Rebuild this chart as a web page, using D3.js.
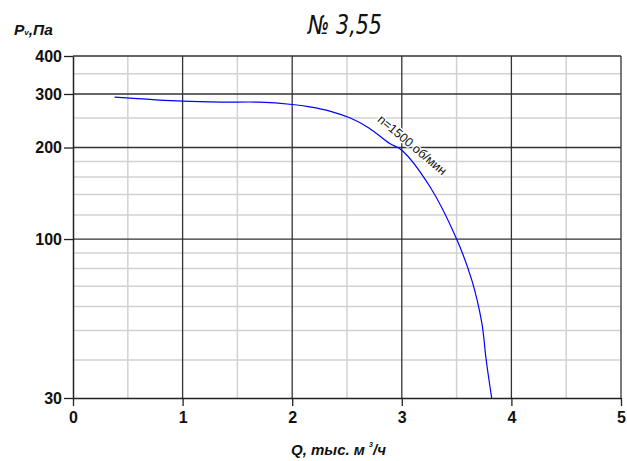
<!DOCTYPE html>
<html>
<head>
<meta charset="utf-8">
<script src="https://cdn.jsdelivr.net/npm/d3@7"></script>
<style>
  body { margin: 0; background: #fff; }
  svg { display: block; font-family: Arial, "Liberation Sans", sans-serif; }
</style>
</head>
<body>
<script>
// fan curve data (Q in thousand m3/h, Pv in Pa)
var flow = [0.38, 1.0, 1.35, 1.7, 2.0, 2.16, 2.35, 2.53, 2.7, 2.89, 3.0, 3.26, 3.5, 3.64, 3.73, 3.77, 3.82];
var pressure = [293, 284, 282, 282, 277, 272, 263, 250, 232, 206, 196, 148, 100, 73, 53, 40, 30];

var xTicks = [0, 1, 2, 3, 4, 5];
var xMinor = [0.5, 1.5, 2.5, 3.5, 4.5];
var yTicks = [30, 100, 200, 300, 400];
var yMinor = [40, 50, 60, 70, 80, 90, 120, 140, 160, 180, 250, 350];

var margin = { top: 56, right: 6, bottom: 63, left: 73 };
var W = 627, H = 461;
var w = W - margin.left - margin.right;
var h = H - margin.top - margin.bottom;

var svg = d3.select("body").append("svg")
    .attr("width", W)
    .attr("height", H);

var g = svg.append("g")
    .attr("transform", "translate(" + margin.left + "," + margin.top + ")");

var x = d3.scaleLinear().domain([0, 5]).range([0, w]);
var y = d3.scaleLog().domain([30, 400]).range([h, 0]);

// minor grid
g.selectAll(".vminor").data(xMinor).enter().append("line")
    .attr("x1", function (d) { return x(d); })
    .attr("x2", function (d) { return x(d); })
    .attr("y1", 0).attr("y2", h)
    .attr("stroke", "#d2d2d2").attr("stroke-width", 1.5);

g.selectAll(".hminor").data(yMinor).enter().append("line")
    .attr("y1", function (d) { return y(d); })
    .attr("y2", function (d) { return y(d); })
    .attr("x1", 0).attr("x2", w)
    .attr("stroke", "#d2d2d2").attr("stroke-width", 1.5);

// major grid
g.selectAll(".vmajor").data(xTicks.slice(1)).enter().append("line")
    .attr("x1", function (d) { return x(d); })
    .attr("x2", function (d) { return x(d); })
    .attr("y1", 0).attr("y2", h)
    .attr("stroke", "#333").attr("stroke-width", 1.3);

g.selectAll(".hmajor").data(yTicks.slice(1)).enter().append("line")
    .attr("y1", function (d) { return y(d); })
    .attr("y2", function (d) { return y(d); })
    .attr("x1", 0).attr("x2", w)
    .attr("stroke", "#333").attr("stroke-width", 1.3);

// axes
var xAxis = g.append("g")
    .attr("transform", "translate(0," + h + ")")
    .call(d3.axisBottom(x).tickValues(xTicks).tickSize(8).tickSizeOuter(0).tickFormat(d3.format("d")));

var yAxis = g.append("g")
    .call(d3.axisLeft(y).tickValues(yTicks).tickSize(9).tickSizeOuter(0).tickFormat(d3.format("d")));

[xAxis, yAxis].forEach(function (a) {
    a.select(".domain").attr("stroke", "#222").attr("stroke-width", 1.5);
    a.selectAll(".tick line").attr("stroke", "#222").attr("stroke-width", 1.3);
    a.selectAll("text")
        .attr("fill", "#111")
        .style("font-size", "16px")
        .style("font-weight", "bold")
        .style("font-family", "Arial, 'Liberation Sans', sans-serif");
});
xAxis.selectAll("text").attr("dy", "0.72em").attr("y", 13);
yAxis.selectAll("text").attr("x", -11);

// curve
var pts = flow.map(function (q, i) { return [q, pressure[i]]; });

var line = d3.line()
    .x(function (d) { return x(d[0]); })
    .y(function (d) { return y(d[1]); })
    .curve(d3.curveCatmullRom.alpha(0.5));

g.append("path")
    .datum(pts)
    .attr("fill", "none")
    .attr("stroke", "#0000ff")
    .attr("stroke-width", 1.2)
    .attr("d", line);

// curve label
g.append("text")
    .attr("transform", "translate(" + x(3.07) + "," + y(199) + ") rotate(40)")
    .attr("text-anchor", "middle")
    .attr("font-size", 12.5)
    .attr("fill", "#111")
    .attr("stroke", "#fff")
    .attr("stroke-width", 3)
    .attr("paint-order", "stroke")
    .text("n=1500 об/мин");

// title
svg.append("text")
    .attr("x", 308)
    .attr("y", 34)
    .attr("font-size", 26)
    .attr("font-style", "italic")
    .attr("textLength", 74)
    .attr("lengthAdjust", "spacingAndGlyphs")
    .style("font-family", "'DejaVu Sans Condensed', 'DejaVu Sans', sans-serif")
    .style("font-weight", "normal")
    .attr("fill", "#111")
    .text("№ 3,55");

// y axis title
var yt = svg.append("text")
    .attr("x", 14)
    .attr("y", 35)
    .attr("font-size", 15.5)
    .attr("font-weight", "bold")
    .attr("font-style", "italic")
    .attr("fill", "#111");
yt.append("tspan").text("P");
yt.append("tspan").attr("font-size", 8).text("v");
yt.append("tspan").text(",Па");

// x axis title
var xt = svg.append("text")
    .attr("x", 291)
    .attr("y", 455)
    .attr("font-size", 15)
    .attr("font-weight", "bold")
    .attr("font-style", "italic")
    .attr("fill", "#111");
xt.append("tspan").text("Q, тыс. м ");
xt.append("tspan").attr("font-size", 7).attr("dy", -8).text("3");
xt.append("tspan").attr("dy", 8).text("/ч");
</script>
</body>
</html>
